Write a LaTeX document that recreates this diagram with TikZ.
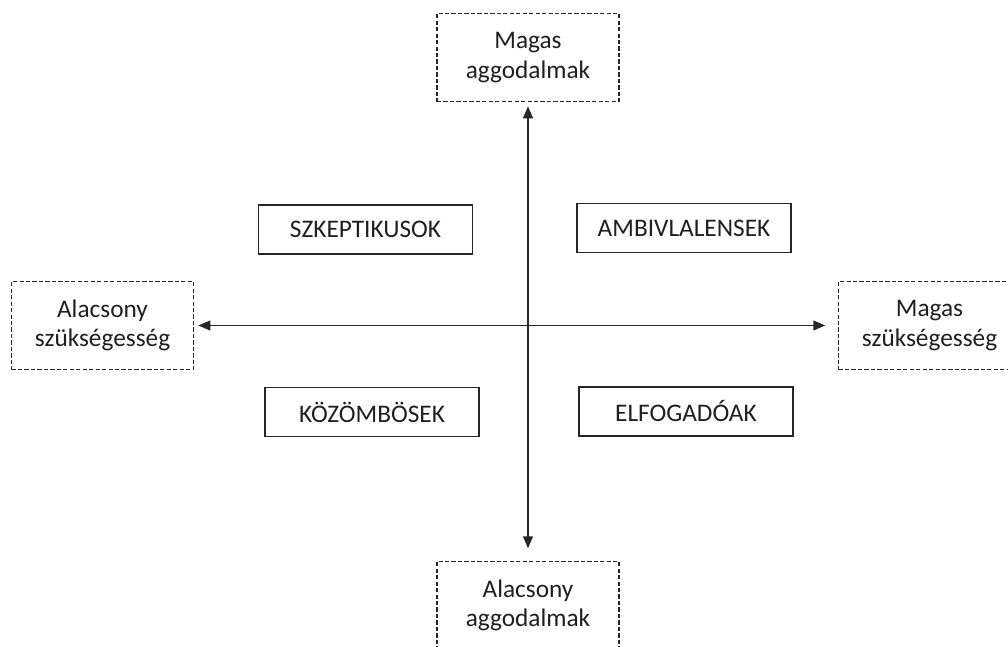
\documentclass[tikz,border=0pt]{standalone}
\usepackage{fontspec}
\setmainfont{Carlito}
\usepackage{tikz}
\usetikzlibrary{positioning,arrows.meta}
\tikzset{
  quad/.style  = {draw=black!85, line width=0.9pt, align=center,
                  minimum width=5.35cm, minimum height=1.22cm, inner sep=2pt},
  axlbl/.style = {draw=black!85, line width=0.8pt, dash pattern=on 3pt off 1.6pt,
                  align=center, minimum width=4.55cm, minimum height=2.2cm,
                  inner sep=2pt},
  arr/.style   = {{Triangle[length=8.5pt,width=7pt]}-{Triangle[length=8.5pt,width=7pt]},
                  line width=1pt, black!85},
}

\begin{document}
\begin{tikzpicture}[x=0.025cm, y=-0.025cm,
  font=\fontsize{18}{21}\selectfont, text=black!88]
\useasboundingbox (0,0) rectangle (1008,646);
% axis ends
\node[axlbl] (hi) at (528,57.5) {Magas\\aggodalmak};
\node[axlbl] (lo) at (528,605.5) {Alacsony\\aggodalmak};
\node[axlbl] (left) at (102.5,325.5) {Alacsony\\szükségesség};
\node[axlbl] (right) at (929.5,325.5) {Magas\\szükségesség};
% quadrants
\node[quad] (szk) at (365.5,229.5) {SZKEPTIKUSOK};
\node[quad] (amb) at (684,228) {AMBIVLALENSEK};
\node[quad] (koz) at (372,412) {KÖZÖMBÖSEK};
\node[quad] (elf) at (686,411.5) {ELFOGADÓAK};
\draw[arr, shorten <=3pt, shorten >=9pt] (hi) -- (lo);
\draw[arr, shorten <=3pt, shorten >=9pt] (left) -- (right);
\end{tikzpicture}
\end{document}
